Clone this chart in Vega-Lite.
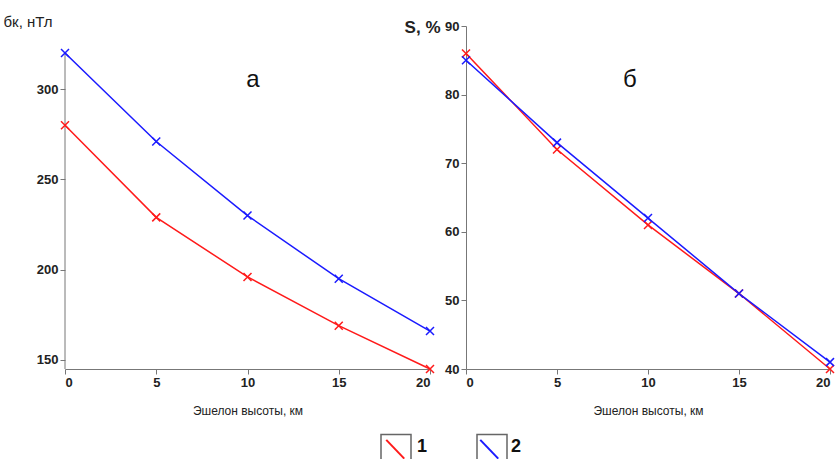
{
  "$schema": "https://vega.github.io/schema/vega-lite/v6.json",
  "autosize": "pad",
  "padding": {"left": 3, "top": 14, "right": 0, "bottom": 0},
  "background": "white",
  "datasets": {
    "a": [
      {"h": 0, "v": 280, "series": "1", "curve": "1"},
      {"h": 5, "v": 229, "series": "1", "curve": "1"},
      {"h": 10, "v": 196, "series": "1", "curve": "1"},
      {"h": 15, "v": 169, "series": "1", "curve": "1"},
      {"h": 20, "v": 145, "series": "1", "curve": "1"},
      {"h": 0, "v": 320, "series": "2", "curve": "2"},
      {"h": 5, "v": 271, "series": "2", "curve": "2"},
      {"h": 10, "v": 230, "series": "2", "curve": "2"},
      {"h": 15, "v": 195, "series": "2", "curve": "2"},
      {"h": 20, "v": 166, "series": "2", "curve": "2"}
    ],
    "b": [
      {"h": 0, "v": 86, "series": "1", "curve": "1"},
      {"h": 5, "v": 72, "series": "1", "curve": "1"},
      {"h": 10, "v": 61, "series": "1", "curve": "1"},
      {"h": 15, "v": 51, "series": "1", "curve": "1"},
      {"h": 20, "v": 40, "series": "1", "curve": "1"},
      {"h": 0, "v": 85, "series": "2", "curve": "2"},
      {"h": 5, "v": 73, "series": "2", "curve": "2"},
      {"h": 10, "v": 62, "series": "2", "curve": "2"},
      {"h": 15, "v": 51, "series": "2", "curve": "2"},
      {"h": 20, "v": 41, "series": "2", "curve": "2"}
    ],
    "lblA": [{"h": 10.3, "v": 305, "t": "а"}],
    "lblB": [{"h": 9.0, "v": 82.1, "t": "б"}],
    "axA": [{"h": 0, "v0": 145, "v1": 320}]
  },
  "config": {
    "view": {"stroke": null},
    "font": "Liberation Sans",
    "axis": {
      "domainColor": "#777",
      "tickColor": "#777",
      "labelFont": "Liberation Sans",
      "labelFontWeight": "bold",
      "labelFontSize": 13,
      "labelColor": "#222",
      "grid": false,
      "tickSize": 5,
      "titleFont": "Liberation Sans",
      "titleColor": "#222"
    }
  },
  "hconcat": [
    {
      "width": 365,
      "height": 343,
      "layer": [
        {
          "data": {"name": "axA"},
          "mark": {"type": "rule", "color": "#777", "strokeWidth": 1},
          "encoding": {
            "x": {"field": "h", "type": "quantitative"},
            "y": {"field": "v0", "type": "quantitative"},
            "y2": {"field": "v1"}
          }
        },
        {
          "data": {"name": "a"},
          "mark": {"type": "line", "strokeWidth": 1.5},
          "encoding": {
            "x": {"field": "h", "type": "quantitative", "scale": {"domain": [0, 20], "nice": false},
              "axis": {"values": [0, 5, 10, 15, 20], "title": "Эшелон высоты, км", "titleFontWeight": "normal", "titleFontSize": 12, "titlePadding": 16}},
            "y": {"field": "v", "type": "quantitative", "scale": {"domain": [145, 335], "nice": false, "zero": false},
              "axis": {"values": [150, 200, 250, 300], "domain": false, "title": "бк, нТл", "titleAngle": 0, "titleAlign": "left", "titleBaseline": "alphabetic", "titleX": -62, "titleY": 0, "titleFontSize": 15, "titleFontWeight": "normal"}},
            "stroke": {"field": "series", "type": "nominal", "scale": {"domain": ["1", "2"], "range": ["#ff1a1a", "#1a1aff"]},
              "legend": {"orient": "none", "legendX": 315, "legendY": 405, "direction": "horizontal", "title": null,
                "symbolType": "M-0.65,-0.5L0.55,0.75", "symbolSize": 900, "symbolStrokeWidth": 2, "symbolFillColor": "transparent",
                "labelFontSize": 18, "labelFontWeight": "bold", "labelColor": "#111", "labelOffset": 5, "columnPadding": 46}}
          }
        },
        {
          "data": {"name": "a"},
          "mark": {"type": "point", "filled": false, "shape": "M-1,-1L1,1M1,-1L-1,1", "size": 64, "strokeWidth": 1.5},
          "encoding": {
            "x": {"field": "h", "type": "quantitative"},
            "y": {"field": "v", "type": "quantitative"},
            "color": {"field": "curve", "type": "nominal", "scale": {"domain": ["1", "2"], "range": ["#ff1a1a", "#1a1aff"]}, "legend": null},
            "opacity": {"field": "curve", "type": "ordinal", "scale": {"domain": ["2", "1"], "range": [1, 1]},
              "legend": {"orient": "none", "legendX": 315, "legendY": 405, "direction": "horizontal", "title": null,
                "symbolType": "M-1,-0.85H1V0.85H-1Z", "symbolSize": 900, "symbolStrokeWidth": 1.5,
                "symbolStrokeColor": "#666", "symbolFillColor": "transparent",
                "labelFontSize": 18, "labelFontWeight": "bold", "labelOpacity": 0, "labelOffset": 5, "columnPadding": 46}}
          }
        },
        {
          "data": {"name": "lblA"},
          "mark": {"type": "text", "fontSize": 24, "font": "Liberation Sans", "color": "#111"},
          "encoding": {
            "x": {"field": "h", "type": "quantitative"},
            "y": {"field": "v", "type": "quantitative"},
            "text": {"field": "t"}
          }
        }
      ]
    },
    {
      "width": 364,
      "height": 343,
      "layer": [
        {
          "data": {"name": "b"},
          "mark": {"type": "line", "strokeWidth": 1.5},
          "encoding": {
            "x": {"field": "h", "type": "quantitative", "scale": {"domain": [0, 20], "nice": false},
              "axis": {"values": [0, 5, 10, 15, 20], "title": "Эшелон высоты, км", "titleFontWeight": "normal", "titleFontSize": 12, "titlePadding": 16}},
            "y": {"field": "v", "type": "quantitative", "scale": {"domain": [40, 90], "nice": false, "zero": false},
              "axis": {"values": [40, 50, 60, 70, 80, 90], "title": "S, %", "titleAngle": 0, "titleAlign": "right", "titleBaseline": "alphabetic", "titleX": -26, "titleY": 6, "titleFontSize": 17, "titleFontWeight": "bold"}},
            "stroke": {"field": "series", "type": "nominal"}
          }
        },
        {
          "data": {"name": "b"},
          "mark": {"type": "point", "filled": false, "shape": "M-1,-1L1,1M1,-1L-1,1", "size": 64, "strokeWidth": 1.5},
          "encoding": {
            "x": {"field": "h", "type": "quantitative"},
            "y": {"field": "v", "type": "quantitative"},
            "color": {"field": "curve", "type": "nominal", "legend": null},
            "opacity": {"field": "curve", "type": "ordinal"}
          }
        },
        {
          "data": {"name": "lblB"},
          "mark": {"type": "text", "fontSize": 24, "font": "Liberation Sans", "color": "#111"},
          "encoding": {
            "x": {"field": "h", "type": "quantitative"},
            "y": {"field": "v", "type": "quantitative"},
            "text": {"field": "t"}
          }
        }
      ]
    }
  ],
  "spacing": 36,
  "bounds": "flush",
  "resolve": {
    "scale": {"x": "independent", "y": "independent", "color": "shared", "stroke": "shared", "opacity": "shared"},
    "legend": {"color": "shared", "stroke": "shared", "opacity": "shared"}
  }
}
